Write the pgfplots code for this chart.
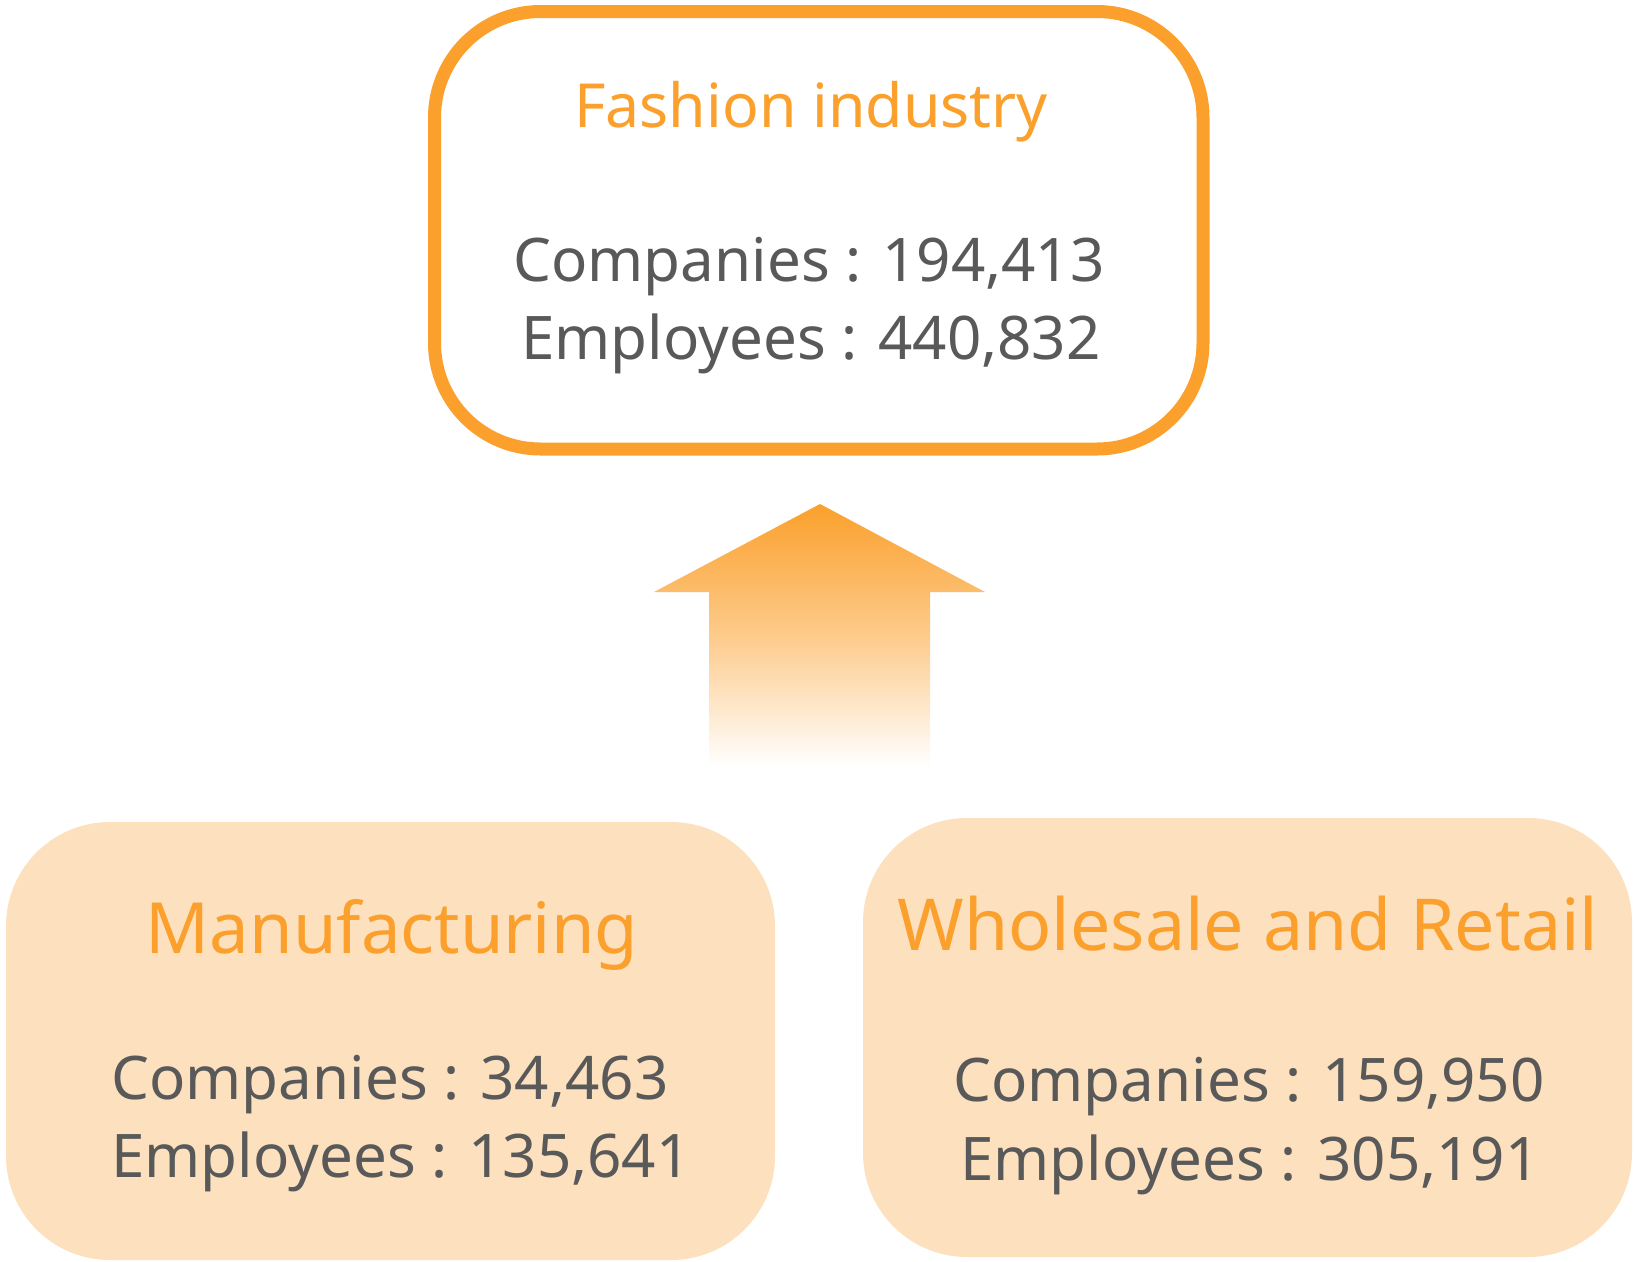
\documentclass[border=0pt]{standalone}
\usepackage{pgfplots}
\pgfplotsset{compat=1.18}
\usepackage{fontspec}
\setmainfont{Noto Sans}
\definecolor{orng}{HTML}{FBA02C}
\definecolor{boxfill}{HTML}{FDE1BF}
\definecolor{txtgray}{HTML}{595959}
\begin{document}
\begin{tikzpicture}
\begin{axis}[
  width=163.4mm, height=126.1mm, scale only axis,
  xmin=0, xmax=1634, ymin=0, ymax=1261, y dir=reverse,
  hide axis, clip=false]
\coordinate (ll) at (axis cs:0,1261);
\coordinate (ur) at (axis cs:1634,0);
% top box
\draw[orng, line width=1.3mm, fill=white, rounded corners=10.6mm]
  (axis cs:434.5,11.5) rectangle (axis cs:1203,449);
% bottom boxes
\fill[boxfill, rounded corners=10.4mm] (axis cs:6,822) rectangle (axis cs:775,1260);
\fill[boxfill, rounded corners=10.4mm] (axis cs:863,818) rectangle (axis cs:1632,1257);
% arrow
\shade[top color=orng, bottom color=white, middle color=orng!55!white]
  (axis cs:820,504) -- (axis cs:985,592) -- (axis cs:930,592) -- (axis cs:930,767)
  -- (axis cs:709,767) -- (axis cs:709,592) -- (axis cs:654,592) -- cycle;
% texts
\node[anchor=base, text=orng, font=\fontsize{17.3}{21}\selectfont] at (axis cs:811,127) {Fashion industry};
\node[anchor=base, text=txtgray, font=\fontsize{17.1}{21}\selectfont] at (axis cs:809,281) {Companies : 194,413};
\node[anchor=base, text=txtgray, font=\fontsize{17.1}{21}\selectfont] at (axis cs:811,359) {Employees : 440,832};
\node[anchor=base, text=orng, font=\fontsize{20.1}{24}\selectfont] at (axis cs:392,953) {Manufacturing};
\node[anchor=base, text=txtgray, font=\fontsize{17.1}{21}\selectfont] at (axis cs:390,1099) {Companies : 34,463};
\node[anchor=base, text=txtgray, font=\fontsize{17.1}{21}\selectfont] at (axis cs:401,1177) {Employees : 135,641};
\node[anchor=base, text=orng, font=\fontsize{20.4}{24}\selectfont] at (axis cs:1248,950) {Wholesale and Retail};
\node[anchor=base, text=txtgray, font=\fontsize{17.1}{21}\selectfont] at (axis cs:1249,1101) {Companies : 159,950};
\node[anchor=base, text=txtgray, font=\fontsize{17.1}{21}\selectfont] at (axis cs:1250,1180) {Employees : 305,191};
\end{axis}
\pgfresetboundingbox
\path[use as bounding box] (ll) rectangle (ur);
\end{tikzpicture}
\end{document}
